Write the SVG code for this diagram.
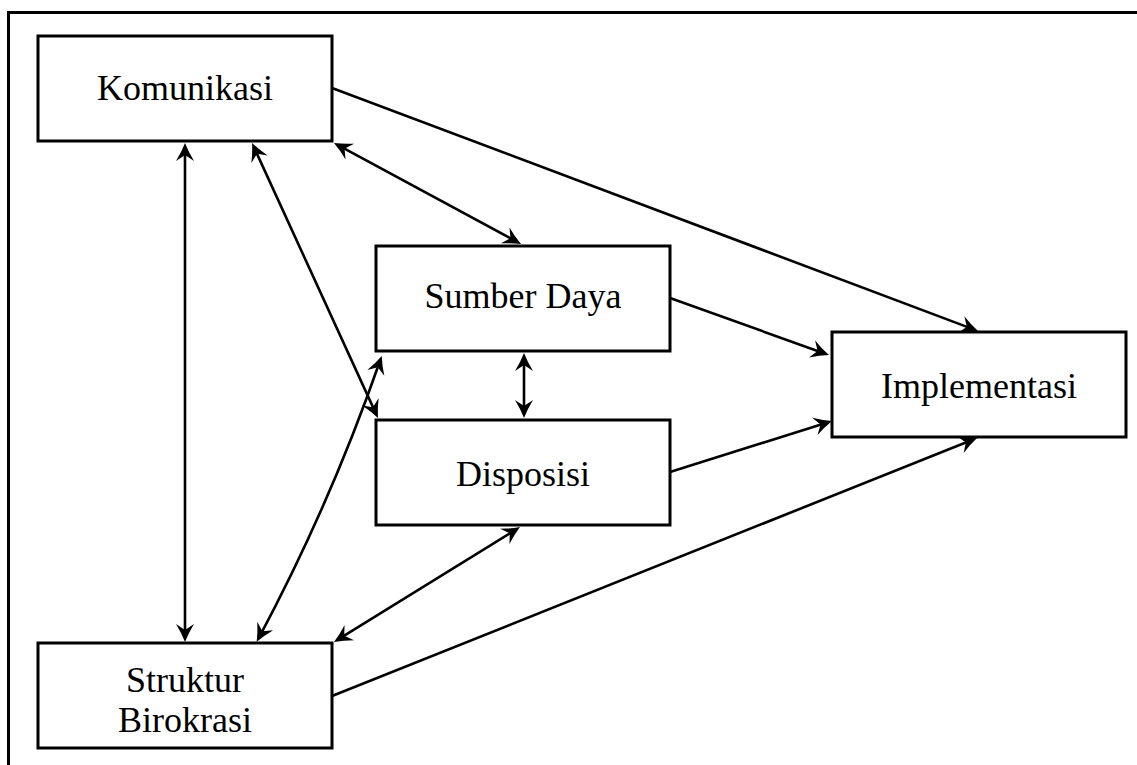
<svg xmlns="http://www.w3.org/2000/svg" width="1137" height="765" viewBox="0 0 1137 765">
  <style>
    .box { fill: #ffffff; stroke: #000000; stroke-width: 3; }
    .lbl { font-family: "Liberation Serif", "Times New Roman", serif; font-size: 36px; fill: #000000; text-anchor: middle; }
    .con { fill: none; stroke: #000000; stroke-width: 2.6; }
    .end { marker-end: url(#ah); }
    .both { marker-start: url(#ah); marker-end: url(#ah); }
  </style>
  <defs>
    <marker id="ah" markerUnits="userSpaceOnUse" viewBox="-19 -10 20 20" markerWidth="20" markerHeight="20" refX="-4" refY="0" orient="auto-start-reverse">
      <path d="M0,0 Q-9,-3.5 -18,-9 L-12,0 L-18,9 Q-9,3.5 0,0 Z" fill="#000000"/>
    </marker>
  </defs>
  <rect x="0" y="0" width="1137" height="765" fill="#ffffff"/>
  <rect id="frame" x="8.5" y="12.5" width="1200" height="800" fill="none" stroke="#000000" stroke-width="3"/>

  <g id="connectors">
    <line class="con both" x1="185" y1="147" x2="185" y2="638"/>
    <line class="con both" x1="253.7" y1="146.6" x2="376.3" y2="414.4"/>
    <line class="con both" x1="337.5" y1="144.9" x2="517.5" y2="242.1"/>
    <line class="con end" x1="332" y1="88" x2="974.3" y2="329.6"/>
    <line class="con end" x1="670" y1="298" x2="825.2" y2="353.7"/>
    <line class="con both" x1="524" y1="357" x2="524" y2="414"/>
    <line class="con end" x1="670" y1="472" x2="828.2" y2="422.2"/>
    <line class="con end" x1="332" y1="696" x2="973.3" y2="439.5"/>
    <line class="con both" x1="516.6" y1="529.1" x2="337.4" y2="639.9"/>
    <path class="con both" d="M258.6,638.3 Q330.5,503.8 380.4,359.7"/>
  </g>

  <g id="komunikasi">
    <rect class="box" x="38" y="36" width="294" height="105"/>
    <text class="lbl" x="185" y="100">Komunikasi</text>
  </g>
  <g id="sumber-daya">
    <rect class="box" x="376" y="246" width="294" height="105"/>
    <text class="lbl" x="523" y="308">Sumber Daya</text>
  </g>
  <g id="disposisi">
    <rect class="box" x="376" y="420" width="294" height="105"/>
    <text class="lbl" x="523" y="486">Disposisi</text>
  </g>
  <g id="implementasi">
    <rect class="box" x="832" y="332" width="294" height="105"/>
    <text class="lbl" x="979" y="398">Implementasi</text>
  </g>
  <g id="struktur-birokrasi">
    <rect class="box" x="38" y="643" width="294" height="105"/>
    <text class="lbl" x="185" y="692">Struktur</text>
    <text class="lbl" x="185" y="732">Birokrasi</text>
  </g>
</svg>
